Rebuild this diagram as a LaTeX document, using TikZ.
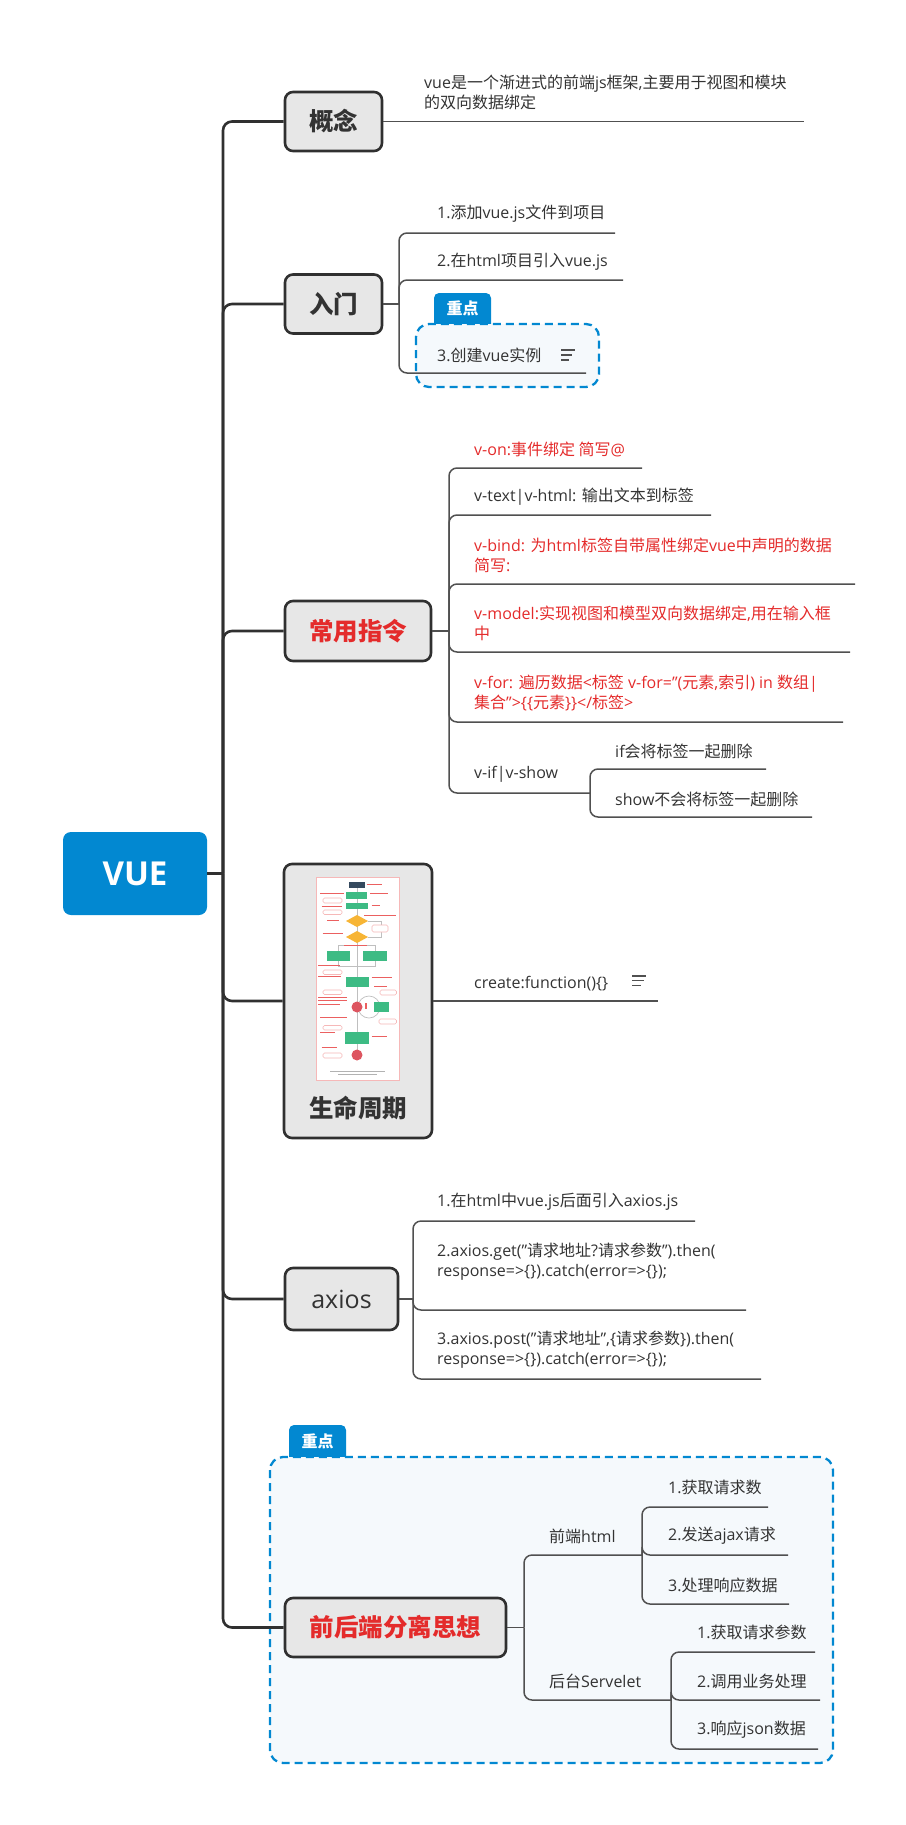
\documentclass[tikz,border=0pt]{standalone}
\usepackage{fontspec}
\setmainfont{Open Sans}
\newfontfamily\zhf{Noto Sans CJK SC}
\newcommand\zh[1]{{\zhf #1}}
\newcommand\dq{\symbol{34}}
\definecolor{txt}{HTML}{333333}
\definecolor{redt}{HTML}{E42B2B}
\definecolor{linec}{HTML}{505050}
\definecolor{boxfill}{HTML}{E7E7E7}
\definecolor{boxline}{HTML}{303030}
\definecolor{vueblue}{HTML}{0288D1}
\definecolor{dashfill}{HTML}{F5F9FC}
\definecolor{thgreen}{HTML}{3DBB84}
\definecolor{thyellow}{HTML}{F7B535}
\definecolor{thred}{HTML}{DD5560}
\definecolor{thpink}{HTML}{F6B8B8}
\definecolor{thdark}{HTML}{35495E}
\begin{document}
\begin{tikzpicture}[x=1pt,y=-1pt,
  topic/.style={draw=boxline,line width=2.6pt,fill=boxfill,rounded corners=8pt,inner sep=0pt,text=txt,font=\fontsize{24.5}{28}\selectfont\bfseries},
  trunkline/.style={draw=boxline,line width=2.6pt,rounded corners=9pt},
  subline/.style={draw=linec,line width=1.5pt,rounded corners=8pt},
  leaf/.style={anchor=west,inner sep=0pt,text=txt,font=\fontsize{16}{20}\selectfont,align=left},
  redleaf/.style={leaf,text=redt},
  focus/.style={draw=vueblue,line width=2.3pt,dash pattern=on 8pt off 5pt,fill=dashfill,rounded corners=13pt},
  tagshape/.style={fill=vueblue,rounded corners=5pt},
  tagtext/.style={text=white,inner sep=0pt,font=\fontsize{16}{18}\selectfont\bfseries},
  noteicon/.style={draw=linec,line width=1.2pt},
  thbar/.style={draw=redt!75,line width=1pt},
  thbox/.style={draw=thpink,line width=0.6pt,fill=white,rounded corners=1.5pt},
  thflow/.style={draw=black!25,line width=0.7pt},
]
\useasboundingbox (0,0) rectangle (905,1825);

% ---------- tags and focus frames (background) ----------
\path[tagshape] (434,293) rectangle (491,335);
\path[tagshape] (289,1425) rectangle (346,1467);
\path[focus] (416,324) rectangle (599,387);
\path[focus] (270,1457) rectangle (833,1763);
\node[tagtext] (tag1) at (462.5,308.5) {\zh{重点}};
\node[tagtext] (tag2) at (317.5,1441) {\zh{重点}};

% ---------- main topics ----------
\node[fill=vueblue,rounded corners=8pt,minimum width=144pt,minimum height=83pt,inner sep=0pt,text=white,font=\fontsize{33}{40}\selectfont\bfseries] (vue) at (135,873.5) {VUE};
\node[topic,minimum width=97pt,minimum height=59pt] (gn) at (333.5,121.5) {\zh{概念}};
\node[topic,minimum width=97pt,minimum height=59pt] (rm) at (333.5,304) {\zh{入门}};
\node[topic,minimum width=146pt,minimum height=60pt,text=redt] (cy) at (358,631) {\zh{常用指令}};
\node[topic,minimum width=148pt,minimum height=274pt] (sm) at (358,1001) {};
\node[topic,minimum width=113pt,minimum height=62pt,font=\fontsize{25}{30}\selectfont] (ax) at (341.5,1299) {axios};
\node[topic,minimum width=221pt,minimum height=59pt,text=redt] (qh) at (395.5,1627.5) {\zh{前后端分离思想}};
\node[inner sep=0pt,text=txt,font=\fontsize{24.5}{28}\selectfont\bfseries] (smt) at (358,1108) {\zh{生命周期}};

% ---------- lifecycle thumbnail ----------
\draw[thpink,line width=1pt,fill=white] (316,877) rectangle (399,1080);
\draw[thflow] (357,888) -- (357,1055);
\draw[thflow] (338.5,951) -- (338.5,945) -- (375,945) -- (375,951);
\draw[thflow] (338.5,961) -- (338.5,966) -- (375,966) -- (375,961);
\draw[thflow] (368,921) -- (381,921) -- (381,937) -- (368,937);
\draw[thflow] (369,1007) circle[radius=11pt];
\foreach \a/\b/\c/\d in {323/898/342/903, 323/910/342/914.5, 323/970/342/974.5, 323/990/342/994.5, 323/1025.5/342/1030, 323/1053/342/1058, 380/990/396.5/995, 379/1019/396.5/1024, 372/925/388/932}
  \path[thbox] (\a,\b) rectangle (\c,\d);
\fill[thdark] (349,882) rectangle (365,888);
\foreach \a/\b/\c/\d in {346/892/367/899, 346/903/368/909, 327/951/350/961, 363/951/387/961, 346/977/369/987, 374/1002/389/1012, 345/1032/369/1044}
  \fill[thgreen] (\a,\b) rectangle (\c,\d);
\fill[thyellow] (346,921) -- (357,915) -- (368,921) -- (357,927) -- cycle;
\fill[thyellow] (346,937) -- (357,931) -- (368,937) -- (357,943) -- cycle;
\fill[thred] (357,1007) circle[radius=5.5pt];
\fill[thred] (357,1055) circle[radius=5.5pt];
\foreach \a/\c/\y in {366.7/381.7/884.3, 320/344/893.3, 370/388/893.3, 371.7/380/905.7, 321.7/341.7/906, 364/396/915, 327/339/920.7, 322.7/343.3/933.3, 344/366.7/945, 318/340/965, 318/340.7/976.7, 371.7/391.7/977.7, 318/346.7/997, 318/346.7/1000.5, 318/340/1004, 320/346.7/1017.7, 320/335/1032.7, 371.7/386.7/1036.7, 321.7/336.7/1047.3, 374/386.7/986.7}
  \draw[thbar] (\a,\y) -- (\c,\y);
\draw[redt!75,line width=1.6pt] (366,1003) -- (366,1009);
\draw[black!30,line width=0.7pt] (330,1071.7) -- (385,1071.7) (338,1074.5) -- (376.7,1074.5);

% ---------- trunk ----------
\coordinate (hub) at (223,873.5);
\draw[trunkline] (vue.east) -- (hub);
\foreach \t in {gn,rm,cy,sm,ax,qh}
  \draw[trunkline] (hub) |- (\t.west);

% ---------- 概念 ----------
\coordinate (gn1e) at (804,121.5);
\draw[subline] (gn.east) -- (gn1e);
\node[leaf] (gn1) at (424,92) {vue\zh{是一个渐进式的前端}js\zh{框架},\zh{主要用于视图和模块}\\\zh{的双向数据绑定}};

% ---------- 入门 ----------
\coordinate (rmb) at (399,304);
\coordinate (rm1e) at (615,233);
\coordinate (rm2e) at (623,280);
\coordinate (rm3e) at (586,373);
\draw[subline] (rm.east) -- (rmb);
\foreach \e in {rm1e,rm2e,rm3e} \draw[subline] (rmb) |- (\e);
\node[leaf] (rm1) at (437,214) {1.\zh{添加}vue.js\zh{文件到项目}};
\node[leaf] (rm2) at (437,262) {2.\zh{在}html\zh{项目引入}vue.js};
\node[leaf] (rm3) at (437,355) {3.\zh{创建}vue\zh{实例}};
\draw[noteicon] (561,350) -- +(14,0) (561,355) -- +(11,0) (561,360) -- +(8,0);

% ---------- 常用指令 ----------
\coordinate (cyb) at (449,631);
\coordinate (cy1e) at (642,468);
\coordinate (cy2e) at (711,515);
\coordinate (cy3e) at (855,584);
\coordinate (cy4e) at (850,652);
\coordinate (cy5e) at (843,722);
\coordinate (cy6e) at (590,793);
\coordinate (cy61e) at (766,769);
\coordinate (cy62e) at (812,817);
\draw[subline] (cy.east) -- (cyb);
\foreach \e in {cy1e,cy2e,cy3e,cy4e,cy5e,cy6e} \draw[subline] (cyb) |- (\e);
\foreach \e in {cy61e,cy62e} \draw[subline] (cy6e) |- (\e);
\node[redleaf] (cy1) at (474,449) {v-on:\zh{事件绑定 简写}@};
\node[leaf] (cy2) at (474,497) {v-text|v-html: \zh{输出文本到标签}};
\node[redleaf] (cy3) at (474,555) {v-bind: \zh{为}html\zh{标签自带属性绑定}vue\zh{中声明的数据}\\\zh{简写}:};
\node[redleaf] (cy4) at (474,623) {v-model:\zh{实现视图和模型双向数据绑定},\zh{用在输入框}\\\zh{中}};
\node[redleaf] (cy5) at (474,692.5) {v-for: \zh{遍历数据}<\zh{标签} v-for=\dq(\zh{元素},\zh{索引}) in \zh{数组}|\\\zh{集合}\dq>\{\{\zh{元素}\}\}</\zh{标签}>};
\node[leaf] (cy6) at (474,774) {v-if|v-show};
\node[leaf] (cy61) at (615,751) {if\zh{会将标签一起删除}};
\node[leaf] (cy62) at (615,799) {show\zh{不会将标签一起删除}};

% ---------- 生命周期 ----------
\coordinate (sm1e) at (658,1001);
\draw[subline] (sm.east) -- (sm1e);
\node[leaf] (sm1) at (474,984) {create:function()\{\}};
\draw[noteicon] (632,976) -- +(14,0) (632,980.7) -- +(12,0) (632,985.4) -- +(9,0);

% ---------- axios ----------
\coordinate (axb) at (413,1299);
\coordinate (ax1e) at (695,1221);
\coordinate (ax2e) at (746,1310);
\coordinate (ax3e) at (761,1379);
\draw[subline] (ax.east) -- (axb);
\foreach \e in {ax1e,ax2e,ax3e} \draw[subline] (axb) |- (\e);
\node[leaf] (ax1) at (437,1202) {1.\zh{在}html\zh{中}vue.js\zh{后面引入}axios.js};
\node[leaf] (ax2) at (437,1262) {2.axios.get(\dq\zh{请求地址}?\zh{请求参数}\dq).then(\\response=>\{\}).catch(error=>\{\});};
\node[leaf] (ax3) at (437,1350) {3.axios.post(\dq\zh{请求地址}\dq,\{\zh{请求参数}\}).then(\\response=>\{\}).catch(error=>\{\});};

% ---------- 前后端分离思想 ----------
\coordinate (qhb) at (524,1627.5);
\coordinate (qh1e) at (642,1555);
\coordinate (qh2e) at (671,1700);
\coordinate (qh11e) at (768,1507);
\coordinate (qh12e) at (788,1555);
\coordinate (qh13e) at (789,1604);
\coordinate (qh21e) at (815,1652);
\coordinate (qh22e) at (820,1700);
\coordinate (qh23e) at (818,1749);
\draw[subline] (qh.east) -- (qhb);
\foreach \e in {qh1e,qh2e} \draw[subline] (qhb) |- (\e);
\foreach \e in {qh11e,qh12e,qh13e} \draw[subline] (qh1e) |- (\e);
\foreach \e in {qh21e,qh22e,qh23e} \draw[subline] (qh2e) |- (\e);
\node[leaf] (qh1) at (549,1536) {\zh{前端}html};
\node[leaf] (qh2) at (549,1681) {\zh{后台}Servelet};
\node[leaf] (qh11) at (668,1487) {1.\zh{获取请求数}};
\node[leaf] (qh12) at (668,1536) {2.\zh{发送}ajax\zh{请求}};
\node[leaf] (qh13) at (668,1585) {3.\zh{处理响应数据}};
\node[leaf] (qh21) at (697,1632) {1.\zh{获取请求参数}};
\node[leaf] (qh22) at (697,1681) {2.\zh{调用业务处理}};
\node[leaf] (qh23) at (697,1730) {3.\zh{响应}json\zh{数据}};
\end{tikzpicture}
\end{document}
